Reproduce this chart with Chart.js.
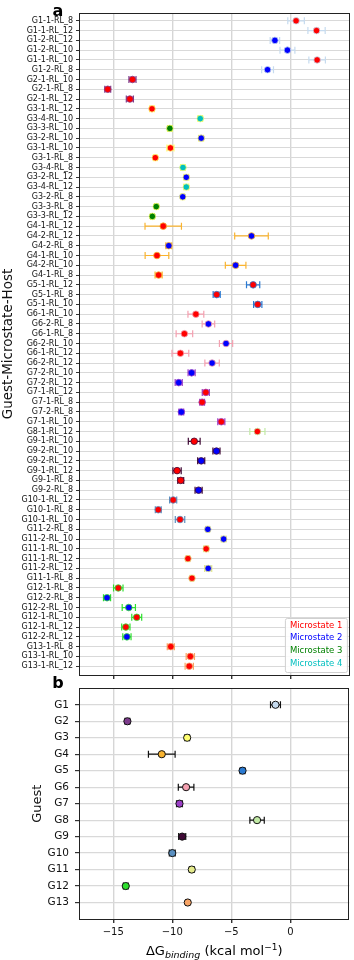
<!DOCTYPE html>
<html><head><meta charset="utf-8">
<script src="https://cdn.jsdelivr.net/npm/chart.js@4.4.0/dist/chart.umd.min.js"></script>
<style>
html,body{margin:0;padding:0;background:#fff;}
body{width:354px;height:960px;position:relative;overflow:hidden;}
#ca{position:absolute;left:0;top:0;}
#cb{position:absolute;left:0;top:676px;}
</style></head><body>
<canvas id="ca" width="354" height="684"></canvas>
<canvas id="cb" width="354" height="284"></canvas>
<script>
// ---------- DATA ----------
const rowLabels = [
 'G1-1-RL_8','G1-1-RL_12','G1-2-RL_12','G1-2-RL_10','G1-1-RL_10','G1-2-RL_8',
 'G2-1-RL_10','G2-1-RL_8','G2-1-RL_12',
 'G3-1-RL_12','G3-4-RL_10','G3-3-RL_10','G3-2-RL_10','G3-1-RL_10','G3-1-RL_8','G3-4-RL_8','G3-2-RL_12','G3-4-RL_12','G3-2-RL_8','G3-3-RL_8','G3-3-RL_12',
 'G4-1-RL_12','G4-2-RL_12','G4-2-RL_8','G4-1-RL_10','G4-2-RL_10','G4-1-RL_8',
 'G5-1-RL_12','G5-1-RL_8','G5-1-RL_10',
 'G6-1-RL_10','G6-2-RL_8','G6-1-RL_8','G6-2-RL_10','G6-1-RL_12','G6-2-RL_12',
 'G7-2-RL_10','G7-2-RL_12','G7-1-RL_12','G7-1-RL_8','G7-2-RL_8','G7-1-RL_10',
 'G8-1-RL_12',
 'G9-1-RL_10','G9-2-RL_10','G9-2-RL_12','G9-1-RL_12','G9-1-RL_8','G9-2-RL_8',
 'G10-1-RL_12','G10-1-RL_8','G10-1-RL_10',
 'G11-2-RL_8','G11-2-RL_10','G11-1-RL_10','G11-1-RL_12','G11-2-RL_12','G11-1-RL_8',
 'G12-1-RL_8','G12-2-RL_8','G12-2-RL_10','G12-1-RL_10','G12-1-RL_12','G12-2-RL_12',
 'G13-1-RL_8','G13-1-RL_10','G13-1-RL_12'
];
const rowMicrostate = [
 1,1,2,2,1,2,
 1,1,1,
 1,4,3,2,1,1,4,2,4,2,3,3,
 1,2,2,1,2,1,
 1,1,1,
 1,2,1,2,1,2,
 2,2,1,1,2,1,
 1,
 1,2,2,1,1,2,
 1,1,1,
 2,2,1,1,2,1,
 1,2,2,1,1,2,
 1,1,1
];
const rowValues = [
 0.45, 2.18, -1.34, -0.28, 2.23, -1.96,
 -13.38, -15.47, -13.60,
 -11.73, -7.65, -10.22, -7.57, -10.17, -11.45, -9.11, -8.83, -8.83, -9.13, -11.37, -11.70,
 -10.78, -3.32, -10.31, -11.31, -4.66, -11.17,
 -3.18, -6.26, -2.79,
 -8.02, -6.96, -8.99, -5.47, -9.33, -6.65,
 -8.38, -9.47, -7.18, -7.49, -9.25, -5.87,
 -2.82,
 -8.16, -6.28, -7.57, -9.61, -9.30, -7.79,
 -9.94, -11.20, -9.36,
 -7.01, -5.67, -7.15, -8.69, -6.98, -8.35,
 -14.58, -15.53, -13.69, -13.02, -13.94, -13.85,
 -10.14, -8.49, -8.58
];
const rowErrors = [
 0.70, 0.73, 0.40, 0.63, 0.70, 0.50,
 0.30, 0.25, 0.30,
 0.20, 0.20, 0.20, 0.20, 0.30, 0.15, 0.20, 0.20, 0.20, 0.15, 0.15, 0.15,
 1.54, 1.42, 0.25, 1.00, 0.87, 0.30,
 0.56, 0.30, 0.35,
 0.67, 0.53, 0.70, 0.56, 0.71, 0.61,
 0.30, 0.30, 0.30, 0.20, 0.20, 0.30,
 0.64,
 0.50, 0.30, 0.30, 0.35, 0.25, 0.30,
 0.30, 0.25, 0.40,
 0.15, 0.20, 0.20, 0.15, 0.30, 0.15,
 0.40, 0.30, 0.56, 0.42, 0.35, 0.35,
 0.30, 0.35, 0.35
];
const guestLabels = ['G1','G2','G3','G4','G5','G6','G7','G8','G9','G10','G11','G12','G13'];
const guestValues = [-1.26, -13.80, -8.74, -10.89, -4.05, -8.83, -9.39, -2.82, -9.16, -10.00, -8.35, -13.94, -8.69];
const guestErrors = [0.42, 0.20, 0.20, 1.13, 0.20, 0.66, 0.25, 0.61, 0.30, 0.25, 0.20, 0.20, 0.15];
const guestColors = ['#c6dbef','#7d3c8c','#ffff70','#f9b431','#2a7ad2','#f4a0b0','#9b3fc6','#c2eaa6','#3f0a36','#5a8fc0','#e4ea8c','#2ee02e','#f7a466'];
const microstateNames = ['Microstate 1','Microstate 2','Microstate 3','Microstate 4'];
const microstateColors = ['#ff0000','#0000ff','#008000','#00bfbf'];
const xTickValues = [-15, -10, -5, 0];

// ---------- HELPERS ----------
const FONT = 'DejaVu Sans';
const guestOfRow = rowLabels.map(l => parseInt(l.match(/^G(\d+)/)[1], 10) - 1);
const fmtTick = v => (v < 0 ? '\u2212' + Math.abs(v) : String(v));

function errorBarPlugin(values, errors, colorFn, yFn, capHalf, lw) {
  return {
    id: 'errbars',
    beforeDatasetsDraw(chart) {
      const ctx = chart.ctx, xs = chart.scales.x, ys = chart.scales.y;
      ctx.save();
      ctx.lineWidth = lw;
      values.forEach((v, i) => {
        const y = ys.getPixelForValue(yFn(i));
        const x1 = xs.getPixelForValue(v - errors[i]);
        const x2 = xs.getPixelForValue(v + errors[i]);
        ctx.strokeStyle = colorFn(i);
        ctx.beginPath();
        ctx.moveTo(x1, y); ctx.lineTo(x2, y);
        ctx.moveTo(x1, y - capHalf); ctx.lineTo(x1, y + capHalf);
        ctx.moveTo(x2, y - capHalf); ctx.lineTo(x2, y + capHalf);
        ctx.stroke();
      });
      ctx.restore();
    }
  };
}
const framePlugin = {
  id: 'frame',
  afterDraw(chart) {
    const {ctx, chartArea: a} = chart;
    ctx.save();
    ctx.strokeStyle = '#222';
    ctx.lineWidth = 1;
    ctx.strokeRect(Math.round(a.left) + 0.5, Math.round(a.top) + 0.5, Math.round(a.right - a.left) - 1, Math.round(a.bottom - a.top));
    ctx.restore();
  }
};
function panelLabelPlugin(text, x, y) {
  return {
    id: 'panellabel',
    afterDraw(chart) {
      const ctx = chart.ctx;
      ctx.save();
      ctx.font = 'bold 16px "' + FONT + '"';
      ctx.fillStyle = '#000';
      ctx.textAlign = 'center';
      ctx.textBaseline = 'alphabetic';
      ctx.fillText(text, x, y);
      ctx.restore();
    }
  };
}
const legendPlugin = {
  id: 'msLegend',
  afterDatasetsDraw(chart) {
    const ctx = chart.ctx, a = chart.chartArea;
    const w = 62, h = 54;
    const x = a.right - 3 - w, y = a.bottom - 3 - h;
    ctx.save();
    ctx.fillStyle = 'rgba(255,255,255,0.85)';
    ctx.strokeStyle = '#d0d0d0';
    ctx.lineWidth = 1;
    ctx.beginPath();
    ctx.roundRect(x + 0.5, y + 0.5, w, h, 2);
    ctx.fill(); ctx.stroke();
    ctx.font = '8.5px "' + FONT + '"';
    ctx.textAlign = 'left';
    ctx.textBaseline = 'middle';
    microstateNames.forEach((n, i) => {
      ctx.fillStyle = microstateColors[i];
      ctx.fillText(n, x + 5, y + 7.5 + i * 12.6);
    });
    ctx.restore();
  }
};
const xTitlePlugin = {
  id: 'xtitle',
  afterDraw(chart) {
    const ctx = chart.ctx, a = chart.chartArea;
    const parts = [
      {t: '\u0394G', f: '13px "' + FONT + '"', dy: 0},
      {t: 'binding', f: 'italic 9.5px "' + FONT + '"', dy: 3},
      {t: ' (kcal mol', f: '13px "' + FONT + '"', dy: 0},
      {t: '\u22121', f: '9px "' + FONT + '"', dy: -5},
      {t: ')', f: '13px "' + FONT + '"', dy: 0}
    ];
    ctx.save();
    ctx.fillStyle = '#000';
    ctx.textBaseline = 'alphabetic';
    ctx.textAlign = 'left';
    let total = 0;
    parts.forEach(p => { ctx.font = p.f; p.w = ctx.measureText(p.t).width; total += p.w; });
    let x = (a.left + a.right) / 2 - total / 2;
    const base = 279;
    parts.forEach(p => { ctx.font = p.f; ctx.fillText(p.t, x, base + p.dy); x += p.w; });
    ctx.restore();
  }
};

const gridX = {color: '#d6d6d6', lineWidth: 1.4, tickLength: 4, tickColor: '#333'};

// ---------- PANEL A ----------
new Chart(document.getElementById('ca'), {
  type: 'scatter',
  data: {
    datasets: microstateNames.map((name, m) => ({
      label: name,
      data: rowValues.map((v, i) => ({x: v, y: i, g: guestOfRow[i]})).filter((p, i) => rowMicrostate[i] === m + 1),
      backgroundColor: microstateColors[m],
      pointBackgroundColor: microstateColors[m],
      pointBorderColor: c => guestColors[c.raw ? c.raw.g : 0],
      pointBorderWidth: 0.8,
      pointRadius: 3.3,
      pointHoverRadius: 3.3
    }))
  },
  options: {
    responsive: false, animation: false, events: [],
    layout: {padding: {top: 13, right: 2, left: 0, bottom: 0}},
    plugins: {legend: {display: false}, tooltip: {enabled: false}},
    scales: {
      x: {
        type: 'linear', min: -17.9, max: 5.0,
        afterBuildTicks: s => { s.ticks = xTickValues.map(v => ({value: v})); },
        afterFit: s => { s.height = 9; },
        ticks: {display: false},
        grid: gridX,
        border: {display: false}
      },
      y: {
        type: 'linear', reverse: true, min: -0.8, max: 66.9,
        afterBuildTicks: s => { s.ticks = rowLabels.map((_, i) => ({value: i})); },
        afterFit: s => { s.width = 79; },
        ticks: {autoSkip: false, callback: v => rowLabels[v], font: {family: FONT, size: 8}, color: '#111', padding: 3},
        grid: {color: '#d9d9d9', lineWidth: 1, tickLength: 3, tickColor: '#333'},
        title: {display: true, text: 'Guest-Microstate-Host', font: {family: FONT, size: 13.5}, color: '#111', padding: {top: 0, bottom: 0}},
        border: {display: false}
      }
    }
  },
  plugins: [
    errorBarPlugin(rowValues, rowErrors, i => guestColors[guestOfRow[i]], i => i, 3.5, 1.2),
    framePlugin, legendPlugin, panelLabelPlugin('a', 58, 16)
  ]
});

// ---------- PANEL B ----------
new Chart(document.getElementById('cb'), {
  type: 'scatter',
  data: {
    datasets: [{
      label: 'Guest',
      data: guestValues.map((v, i) => ({x: v, y: i})),
      pointBackgroundColor: guestColors,
      pointBorderColor: '#111',
      pointBorderWidth: 1,
      pointRadius: 3.6,
      pointHoverRadius: 3.6
    }]
  },
  options: {
    responsive: false, animation: false, events: [],
    layout: {padding: {top: 12, right: 2, left: 0, bottom: 0}},
    plugins: {legend: {display: false}, tooltip: {enabled: false}},
    scales: {
      x: {
        type: 'linear', min: -17.9, max: 5.0,
        afterBuildTicks: s => { s.ticks = xTickValues.map(v => ({value: v})); },
        afterFit: s => { s.height = 41; },
        ticks: {callback: v => fmtTick(v), font: {family: FONT, size: 10}, color: '#111', padding: 3, maxRotation: 0},
        grid: gridX,
        border: {display: false}
      },
      y: {
        type: 'linear', reverse: true, min: -1, max: 13,
        afterBuildTicks: s => { s.ticks = guestLabels.map((_, i) => ({value: i})); },
        afterFit: s => { s.width = 79; },
        ticks: {autoSkip: false, callback: v => guestLabels[v], font: {family: FONT, size: 10.5}, color: '#111', padding: 6},
        grid: {color: '#d9d9d9', lineWidth: 1.2, tickLength: 4, tickColor: '#333'},
        title: {display: true, text: 'Guest', font: {family: FONT, size: 13}, color: '#111', padding: {top: 30, bottom: 0}},
        border: {display: false}
      }
    }
  },
  plugins: [
    errorBarPlugin(guestValues, guestErrors, () => '#111', i => i, 3.5, 1.2),
    framePlugin, xTitlePlugin, panelLabelPlugin('b', 58, 12)
  ]
});
</script>
</body></html>
